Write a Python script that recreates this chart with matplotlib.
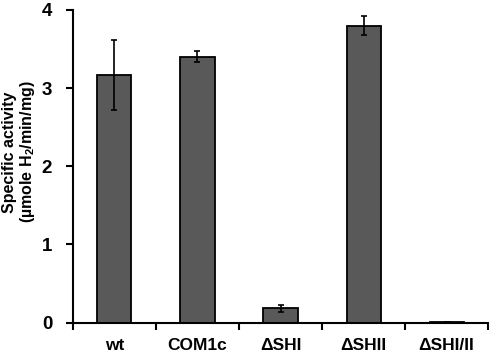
import numpy as np
import matplotlib.pyplot as plt

strains = ['wt', 'COM1c', 'ΔSHI', 'ΔSHII', 'ΔSHI/II']
activity = [3.17, 3.40, 0.18, 3.80, 0.01]
errors = [0.45, 0.07, 0.045, 0.12, 0.0]

plt.rcParams['font.family'] = ['Liberation Sans', 'DejaVu Sans']
plt.rcParams['font.weight'] = 'bold'
plt.rcParams['mathtext.fontset'] = 'custom'
plt.rcParams['mathtext.rm'] = 'Liberation Sans:bold'
plt.rcParams['mathtext.bf'] = 'Liberation Sans:bold'

fig = plt.figure(figsize=(4.93, 3.53), dpi=100)
ax = fig.add_axes([0.148, 0.0864, 0.842, 0.8856])

x = np.arange(len(strains))
ax.bar(x, activity, width=0.41, color='#595959', edgecolor='black', linewidth=1.3,
       yerr=errors, error_kw=dict(ecolor='black', elinewidth=1.2, capsize=2, capthick=1.2))

ax.set_xlim(-0.5, 4.5)
ax.set_ylim(0, 4)
ax.set_yticks([0, 1, 2, 3, 4])
ax.set_xticks(x)
ax.set_xticklabels(strains, fontsize=12.5, fontweight='bold')
ax.set_xticks(np.arange(-0.5, 5, 1), minor=True)
ax.tick_params(axis='x', which='major', length=0, pad=11)
ax.tick_params(axis='x', which='minor', length=5, width=1.5, direction='out')
ax.tick_params(axis='y', length=5, width=1.5, direction='out', labelsize=13.5, pad=10)
for lab in ax.get_yticklabels():
    lab.set_fontweight('bold')

for s in ['top', 'right']:
    ax.spines[s].set_visible(False)
for s in ['left', 'bottom']:
    ax.spines[s].set_linewidth(1.5)

ax.set_ylabel('Specific activity\n(µmole H$_2$/min/mg)', fontsize=11.5, fontweight='bold',
              linespacing=1.05, va='center', ha='center')
ax.yaxis.set_label_coords(-0.128, 0.545)

plt.savefig('out.png', dpi=100)
